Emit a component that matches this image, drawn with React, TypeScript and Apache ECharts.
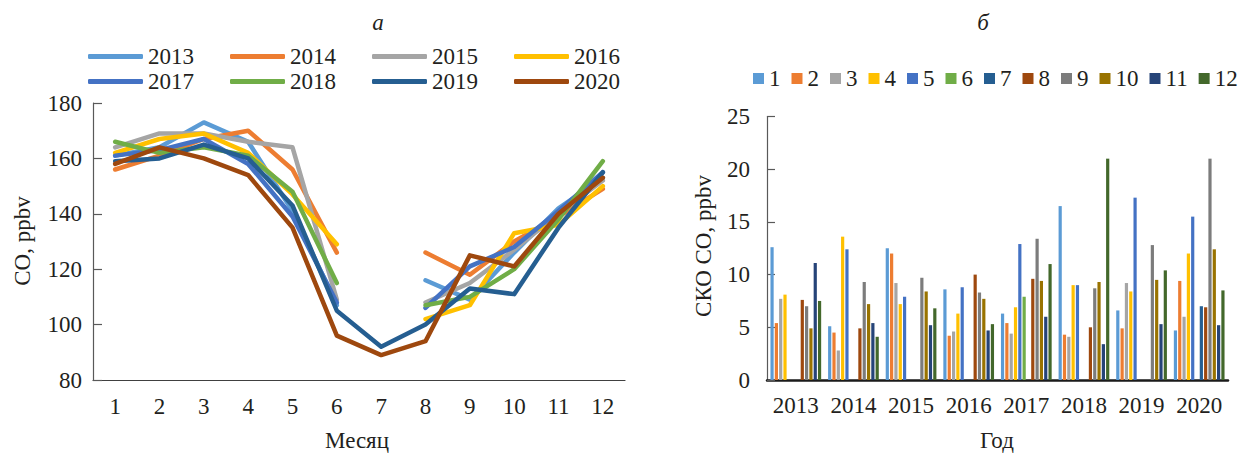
import React, { useEffect, useRef } from "react";
import * as echarts from "echarts";

const months = ["1", "2", "3", "4", "5", "6", "7", "8", "9", "10", "11", "12"];
const lineYears = ["2013", "2014", "2015", "2016", "2017", "2018", "2019", "2020"];

// Panel a: monthly CO, ppbv (null = no data)
const co2013 = [161, 164, 173, 166, 141, 107, null, 116, 109, 126, 142, 153];
const co2014 = [156, 161, 167, 170, 156, 126, null, 126, 118, 130, 139, 149];
const co2015 = [164, 169, 169, 166, 164, 109, null, 108, 115, 127, 140, 152];
const co2016 = [162, 167, 169, 162, 147, 129, null, 102, 107, 133, 136, 150];
const co2017 = [161, 163, 167, 158, 139, 108, null, 106, 121, 128, 141, 155];
const co2018 = [166, 162, 164, 161, 148, 115, null, 107, 110, 120, 138, 159];
const co2019 = [159, 160, 165, 160, 143, 105, 92, 100, 113, 111, 135, 155];
const co2020 = [158, 164, 160, 154, 135, 96, 89, 94, 125, 121, 140, 153];

// Panel b: SD of CO by year, one value per month 1..12 (null = no bar)
const barYears = ["2013", "2014", "2015", "2016", "2017", "2018", "2019", "2020"];
const sd2013 = [12.6, 5.4, 7.7, 8.1, null, null, null, 7.6, 7.0, 4.9, 11.1, 7.5];
const sd2014 = [5.1, 4.5, 2.8, 13.6, 12.4, null, null, 4.9, 9.3, 7.2, 5.4, 4.1];
const sd2015 = [12.5, 12.0, 9.2, 7.2, 7.9, null, null, null, 9.7, 8.4, 5.2, 6.8];
const sd2016 = [8.6, 4.2, 4.6, 6.3, 8.8, null, null, 10.0, 8.3, 7.7, 4.7, 5.3];
const sd2017 = [6.3, 5.4, 4.4, 6.9, 12.9, 7.9, null, 9.6, 13.4, 9.4, 6.0, 11.0];
const sd2018 = [16.5, 4.3, 4.1, 9.0, 9.0, null, null, 5.0, 8.7, 9.3, 3.4, 21.0];
const sd2019 = [6.6, 4.9, 9.2, 8.4, 17.3, null, null, null, 12.8, 9.5, 5.3, 10.4];
const sd2020 = [4.7, 9.4, 6.0, 12.0, 15.5, null, 7.0, 6.9, 21.0, 12.4, 5.2, 8.5];

const lineColors = ["#5B9BD5", "#ED7D31", "#A5A5A5", "#FFC000", "#4472C4", "#70AD47", "#255E91", "#9E480E"];
const barColors = ["#5B9BD5", "#ED7D31", "#A5A5A5", "#FFC000", "#4472C4", "#70AD47", "#255E91", "#9E480E", "#7C7C7C", "#997300", "#264478", "#43682B"];

const FONT = "Liberation Serif, Times New Roman, serif";
const TXT = "#231F20";

export default function App() {
  const ref = useRef<HTMLDivElement>(null);

  useEffect(() => {
    if (!ref.current) return;
    const chart = echarts.init(ref.current, null, { renderer: "svg" });
    const coData = [co2013, co2014, co2015, co2016, co2017, co2018, co2019, co2020];
    const sdData = [sd2013, sd2014, sd2015, sd2016, sd2017, sd2018, sd2019, sd2020];

    const lineSeries = lineYears.map((y, i) => ({
      name: y,
      type: "line",
      xAxisIndex: 0,
      yAxisIndex: 0,
      data: coData[i],
      showSymbol: false,
      symbol: "none",
      connectNulls: false,
      color: lineColors[i],
      lineStyle: { width: 4.5, color: lineColors[i], cap: "round", join: "round" },
      z: 2 + i,
    }));

    const barSeries = months.map((m, mi) => ({
      name: m,
      type: "bar",
      xAxisIndex: 1,
      yAxisIndex: 1,
      data: sdData.map((row) => row[mi]),
      color: barColors[mi],
      itemStyle: { color: barColors[mi] },
      barGap: "35%",
      barCategoryGap: "12%",
    }));

    const legendText = { fontFamily: FONT, fontSize: 23, color: TXT };

    chart.setOption({
      animation: false,
      backgroundColor: "#ffffff",
      textStyle: { fontFamily: FONT },
      legend: [
        {
          data: lineYears.slice(0, 4),
          left: 88,
          top: 45,
          padding: 0,
          itemGap: 36,
          itemWidth: 55,
          itemHeight: 5,
          icon: "roundRect",
          textStyle: legendText,
        },
        {
          data: lineYears.slice(4, 8),
          left: 88,
          top: 70,
          padding: 0,
          itemGap: 36,
          itemWidth: 55,
          itemHeight: 5,
          icon: "roundRect",
          textStyle: legendText,
        },
        {
          data: months,
          left: 753,
          top: 67,
          width: 490,
          orient: "horizontal",
          padding: 0,
          itemGap: 11,
          itemWidth: 11,
          itemHeight: 11,
          icon: "rect",
          textStyle: legendText,
        },
      ],
      grid: [
        { left: 93, top: 103, width: 532, height: 277 },
        { left: 767, top: 116.5, width: 461, height: 263.5 },
      ],
      xAxis: [
        {
          type: "category",
          gridIndex: 0,
          data: months,
          boundaryGap: true,
          axisTick: { show: false },
          axisLine: { lineStyle: { color: "#404040", width: 1.2 } },
          axisLabel: { fontFamily: FONT, fontSize: 23, color: TXT, margin: 15, interval: 0 },
        },
        {
          type: "category",
          gridIndex: 1,
          data: barYears,
          boundaryGap: true,
          axisTick: { show: false },
          axisLine: { lineStyle: { color: "#1a1a1a", width: 2.5 } },
          axisLabel: { fontFamily: FONT, fontSize: 23, color: TXT, margin: 14, interval: 0, hideOverlap: false },
        },
      ],
      yAxis: [
        {
          type: "value",
          gridIndex: 0,
          min: 80,
          max: 180,
          interval: 20,
          splitLine: { show: false },
          axisLine: { show: true, lineStyle: { color: "#595959", width: 1.2 } },
          axisTick: { show: true, inside: true, length: 9, lineStyle: { color: "#595959", width: 1.2 } },
          axisLabel: { fontFamily: FONT, fontSize: 23, color: TXT, margin: 11 },
        },
        {
          type: "value",
          gridIndex: 1,
          min: 0,
          max: 25,
          interval: 5,
          splitLine: { show: false },
          axisLine: { show: true, lineStyle: { color: "#595959", width: 1.2 } },
          axisTick: { show: true, inside: true, length: 8, lineStyle: { color: "#595959", width: 1.2 } },
          axisLabel: { fontFamily: FONT, fontSize: 23, color: TXT, margin: 17 },
        },
      ],
      graphic: [
        {
          type: "text",
          x: 378,
          y: 22,
          style: { text: "а", font: `italic 23px ${FONT}`, fill: TXT, textAlign: "center", textVerticalAlign: "middle" },
        },
        {
          type: "text",
          x: 983,
          y: 22,
          style: { text: "б", font: `italic 23px ${FONT}`, fill: TXT, textAlign: "center", textVerticalAlign: "middle" },
        },
        {
          type: "text",
          x: 357,
          y: 440,
          style: { text: "Месяц", font: `23px ${FONT}`, fill: TXT, textAlign: "center", textVerticalAlign: "middle" },
        },
        {
          type: "text",
          x: 997,
          y: 440,
          style: { text: "Год", font: `23px ${FONT}`, fill: TXT, textAlign: "center", textVerticalAlign: "middle" },
        },
        {
          type: "text",
          x: 22,
          y: 241,
          rotation: Math.PI / 2,
          style: { text: "CO, ppbv", font: `23px ${FONT}`, fill: TXT, textAlign: "center", textVerticalAlign: "middle" },
        },
        {
          type: "text",
          x: 703,
          y: 246,
          rotation: Math.PI / 2,
          style: { text: "СКО CO, ppbv", font: `23px ${FONT}`, fill: TXT, textAlign: "center", textVerticalAlign: "middle" },
        },
      ],
      series: [...lineSeries, ...barSeries],
    });

    return () => chart.dispose();
  }, []);

  return (
    <div
      ref={ref}
      style={{ position: "absolute", left: 0, top: 0, width: 1243, height: 454 }}
    />
  );
}
